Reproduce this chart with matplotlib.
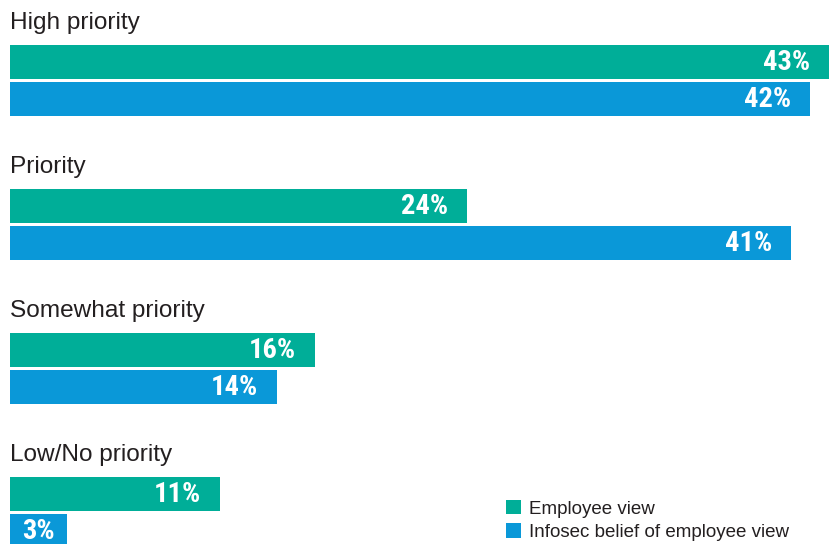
import matplotlib
matplotlib.use("Agg")
import matplotlib.pyplot as plt
from matplotlib.patches import Patch
from matplotlib import font_manager

categories = ["High priority", "Priority", "Somewhat priority", "Low/No priority"]
employee_view = [43, 24, 16, 11]
infosec_view = [42, 41, 14, 3]
series_names = ["Employee view", "Infosec belief of employee view"]
colors = ["#00AE98", "#0A98D8"]

available = {f.name for f in font_manager.fontManager.ttflist}
label_font = [f for f in ["Roboto Condensed", "Liberation Sans Narrow", "DejaVu Sans Condensed",
                          "Roboto", "Liberation Sans", "DejaVu Sans"] if f in available][:1] + ["DejaVu Sans"]

W, H = 830, 544
px_per_unit = 19.05
fig = plt.figure(figsize=(W / 100, H / 100), dpi=100)
ax = fig.add_axes([0, 0, 1, 1])
ax.set_xlim(-10 / px_per_unit, (W - 10) / px_per_unit)
ax.set_ylim(H, 0)
ax.axis("off")

group_gap = 144
green_center = 61.5
blue_center = 99
bar_h = 34

for i, cat in enumerate(categories):
    base = i * group_gap
    ax.text(0, base + 29, cat, fontsize=17.6, family=["Liberation Sans", "DejaVu Sans"],
            color="#231f20", va="baseline", ha="left")
    for vals, yc, col in ((employee_view, green_center, colors[0]),
                          (infosec_view, blue_center, colors[1])):
        v = vals[i]
        ax.barh(base + yc, v, height=bar_h, left=0, color=col, edgecolor="none")
        if v * px_per_unit < 80:
            ax.text(v / 2, base + yc + 0.5, f"{v}%", ha="center", va="center",
                    fontsize=20.5, fontweight="bold", family=label_font, color="white")
        else:
            ax.text(v - 19 / px_per_unit, base + yc + 0.5, f"{v}%", ha="right", va="center",
                    fontsize=20.5, fontweight="bold", family=label_font, color="white")

handles = [Patch(facecolor=c, edgecolor="none") for c in colors]
leg = fig.legend(handles, series_names, loc="upper left",
                 bbox_to_anchor=(506 / W, 1 - 500 / H), frameon=False,
                 handlelength=0.8, handleheight=0.8, handletextpad=0.45,
                 labelspacing=0.3, borderpad=0, borderaxespad=0,
                 prop={"family": ["Liberation Sans", "DejaVu Sans"], "size": 13.5})
for t in leg.get_texts():
    t.set_color("#231f20")

fig.savefig("out.png", dpi=100)
